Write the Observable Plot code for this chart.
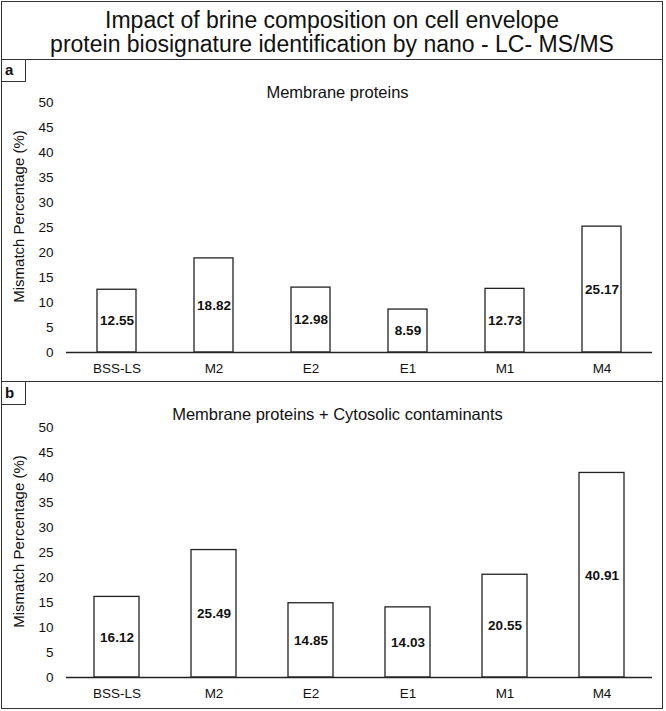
<!DOCTYPE html>
<html>
<head>
<meta charset="utf-8">
<script src="https://cdn.jsdelivr.net/npm/d3@7"></script>
<script src="https://cdn.jsdelivr.net/npm/@observablehq/plot@0.6"></script>
<style>
  body { margin: 0; background: #fff; font-family: "Liberation Sans", Arial, sans-serif; color: #111; }
  .abs { position: absolute; }
  #frame { left: 1px; top: 1px; width: 662px; height: 708px; border: 1.5px solid #333; box-sizing: border-box; }
  #title { left: 0; top: 8px; width: 664px; text-align: center; font-size: 23px; line-height: 24px; }
  .sep { left: 1px; width: 662px; height: 0; border-top: 1.5px solid #333; }
  .tag { left: 1px; width: 25px; border-right: 1.5px solid #333; border-bottom: 1.5px solid #333;
         font-weight: bold; font-size: 15px; padding-left: 4px; box-sizing: border-box; }
</style>
</head>
<body>
<div id="frame" class="abs"></div>
<div id="title" class="abs">Impact of brine composition on cell envelope<br>protein biosignature identification by nano - LC- MS/MS</div>
<div class="abs sep" style="top:59px"></div>
<div class="abs sep" style="top:381px"></div>
<div id="chartA" class="abs" style="left:0;top:61px"></div>
<div id="chartB" class="abs" style="left:0;top:383px"></div>
<div class="abs tag" style="top:60px;height:22px;line-height:20px">a</div>
<div class="abs tag" style="top:382px;height:23px;line-height:21px">b</div>
<script>
// values
const categories = ["BSS-LS", "M2", "E2", "E1", "M1", "M4"]
const membrane = [12.55, 18.82, 12.98, 8.59, 12.73, 25.17]
const withCytosolic = [16.12, 25.49, 14.85, 14.03, 20.55, 40.91]
const yTicks = [0, 5, 10, 15, 20, 25, 30, 35, 40, 45, 50]
const yLabel = "Mismatch Percentage (%)"

function panel(values, subtitle, o) {
  const data = categories.map((c, i) => ({cat: c, value: values[i]}))
  return Plot.plot({
    width: 662,
    height: o.height,
    marginLeft: 66,
    marginRight: 10,
    marginTop: o.top,
    marginBottom: o.bottom,
    style: {fontFamily: "Liberation Sans, Arial, sans-serif", fontSize: "13px", color: "#111", background: "transparent"},
    x: {domain: categories, paddingInner: o.pad, paddingOuter: o.pad / 2, label: null},
    y: {domain: [0, 50], label: null},
    marks: [
      Plot.barY(data, {x: "cat", y: "value", fill: "white", stroke: "#222", strokeWidth: 1.3}),
      Plot.ruleY([0], {stroke: "#222", strokeWidth: 1.5}),
      Plot.text(data, {x: "cat", y: d => d.value / 2, text: d => d.value.toFixed(2), fontWeight: "bold", fontSize: 13.5}),
      Plot.axisX({tickSize: 0, tickPadding: 11, label: null, fontSize: 13.5}),
      Plot.axisY({ticks: yTicks, tickSize: 0, tickPadding: 13, fontSize: 13.5, label: null}),
      // y title drawn by hand so it has no arrow
      Plot.text([yLabel], {frameAnchor: "left", textAnchor: "middle", rotate: -90, dx: -47, dy: -11, fontSize: 15}),
      Plot.text([subtitle], {frameAnchor: "top", dx: -22, dy: -o.top + 25, fontSize: 16.5})
    ]
  })
}

d3.select("#chartA").append(() => panel(membrane, "Membrane proteins", {height: 321, top: 41, bottom: 30, pad: 0.6}))
d3.select("#chartB").append(() => panel(withCytosolic, "Membrane proteins + Cytosolic contaminants", {height: 325, top: 44, bottom: 31, pad: 0.54}))
</script>
</body>
</html>
